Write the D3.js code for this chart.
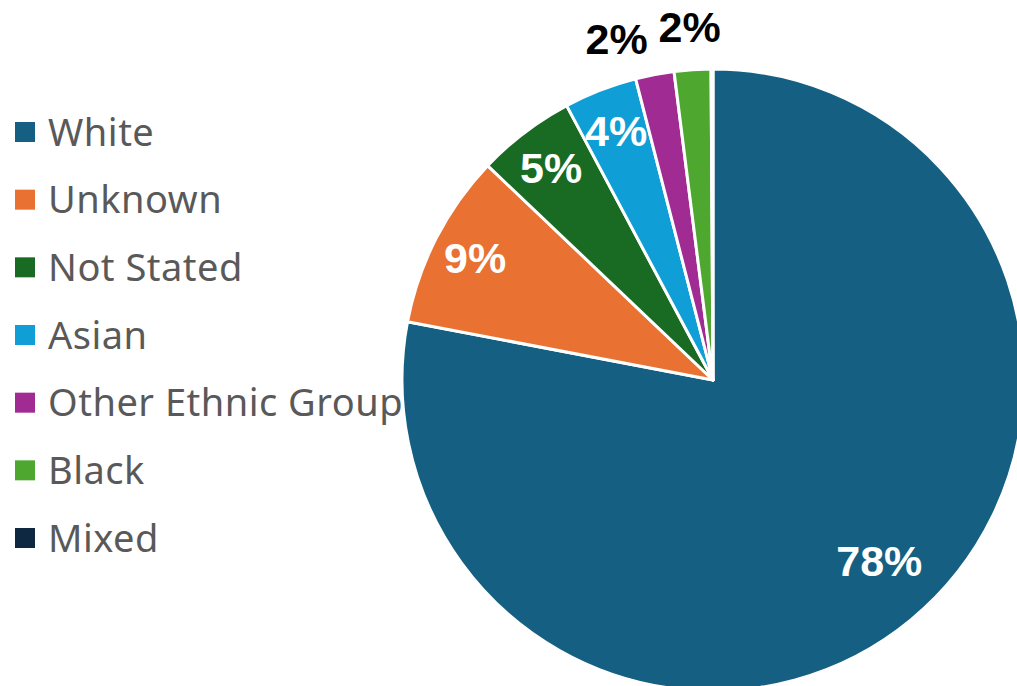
<!DOCTYPE html>
<html>
	<head>
		<meta charset="utf-8">
		<title>Ethnicity</title>
		<script src="https://cdn.jsdelivr.net/npm/d3@7"></script>
		<style>
			body { margin: 0; background: #fff; }
			svg { display: block; overflow: hidden; }
		</style>
	</head>
	<body>
		<div id='viz'></div>
		<script>
			var categories = ['White', 'Unknown', 'Not Stated', 'Asian', 'Other Ethnic Group', 'Black', 'Mixed'];
			var values = [78.0, 9.1, 5.1, 3.8, 2.0, 1.9, 0.1];
			var colorList = ['#156082', '#E97132', '#196B24', '#0F9ED5', '#A02B93', '#4EA72E', '#0E2841'];
			// which labels sit outside the pie
			var outside = [false, false, false, false, true, true, false];

			var width = 1017,
				height = 686;
			var cx = 713, cy = 380, radius = 311;

			var svg = d3.select('#viz')
				.append('svg')
				.attr('width', width)
				.attr('height', height);

			var data = categories.map((c, i) => ({name: c, value: values[i]}));
			var arcs = d3.pie()
				.sort(null)
				.value(d => d.value)(data);

			var arc = d3.arc().innerRadius(0).outerRadius(radius);
			var pie = svg.append('g').attr('transform', `translate(${cx},${cy})`);

			pie.selectAll('path')
				.data(arcs)
				.join('path')
				.attr('fill', d => colorList[d.index])
				.attr('stroke', '#fff')
				.attr('stroke-width', 3)
				.attr('stroke-linejoin', 'round')
				.attr('d', arc);

			// label radius: inside labels near the rim, the big slice a bit deeper
			var labelR = function(d){
				if (outside[d.index]) return radius * 1.14;
				if (d.index === 0) return radius * 0.79;
				return radius * 0.86;
			};
			var labels = arcs.filter(d => Math.round(d.data.value) > 0).map(d => {
				var a = (d.startAngle + d.endAngle) / 2;
				if (d.index === 0) a -= 3 * Math.PI / 180;
				return {d: d, a: a, r: labelR(d)};
			});
			// push outside labels apart so they do not overlap
			var outs = labels.filter(l => outside[l.d.index]).sort((a, b) => b.a - a.a);
			var minSep = 12 * Math.PI / 180;
			for (var i = 1; i < outs.length; i++) {
				if (outs[i - 1].a - outs[i].a < minSep) outs[i].a = outs[i - 1].a - minSep;
			}

			pie.append('g')
				.attr('font-family', '"Liberation Sans", Arial, sans-serif')
				.attr('font-size', 43)
				.attr('font-weight', 'bold')
				.attr('text-anchor', 'middle')
				.selectAll('text')
				.data(labels)
				.join('text')
				.attr('x', l => Math.sin(l.a) * l.r)
				.attr('y', l => -Math.cos(l.a) * l.r)
				.attr('dy', '0.36em')
				.attr('fill', l => outside[l.d.index] ? '#000' : '#fff')
				.text(l => Math.round(l.d.data.value) + '%');

			// legend
			var legend = svg.append('g')
				.attr('font-family', '"Noto Sans", sans-serif')
				.attr('font-size', 38)
				.attr('letter-spacing', 0.5);
			var rowY = d3.scalePoint().domain(categories).range([132, 538]);
			var rows = legend.selectAll('g')
				.data(categories)
				.join('g')
				.attr('transform', d => `translate(0,${rowY(d)})`);
			rows.append('rect')
				.attr('x', 15)
				.attr('y', -10)
				.attr('width', 20)
				.attr('height', 20)
				.attr('fill', (d, i) => colorList[i]);
			rows.append('text')
				.attr('x', 48)
				.attr('dy', '0.36em')
				.attr('fill', '#595959')
				.text(d => d);
		</script>
	</body>
</html>
